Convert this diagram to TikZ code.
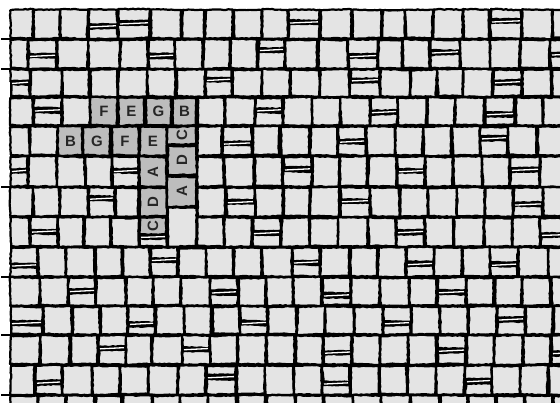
\documentclass[tikz,border=0pt]{standalone}
\usepackage{fontspec}
\setsansfont{Liberation Sans}
\usetikzlibrary{decorations.pathmorphing}
\definecolor{ctile}{HTML}{E4E4E4}
\definecolor{chigh}{HTML}{BDBDBD}
\definecolor{cink}{HTML}{262626}
\tikzset{
  tile/.style={draw=black, fill=#1, line width=2.2pt, line join=round,
    decorate, decoration={random steps, segment length=2.5pt, amplitude=0.45pt}},
  tile/.default=ctile,
  letter/.style={font=\sffamily\bfseries\fontsize{15}{15}\selectfont, text=cink, inner sep=0pt},
  sliver/.style={draw=white, line width=1.3pt},
  stub/.style={draw=black, line width=2.4pt},
}
% one slightly crooked tile: [fill] x1 y1 x2 y2
\newcommand\tilebox[5][ctile]{%
  \path[tile=#1] ({#2+0.6+0.7*rand},{#3+0.6+0.7*rand}) -- ({#4-0.6+0.7*rand},{#3+0.6+0.7*rand})
    -- ({#4-0.6+0.7*rand},{#5-0.6+0.7*rand}) -- ({#2+0.6+0.7*rand},{#5-0.6+0.7*rand}) -- cycle;}

\begin{document}
\begin{tikzpicture}[x=1pt, y=-1pt]
  \pgfmathsetseed{12}
  \useasboundingbox (0,0) rectangle (560,403);
  \begin{scope}
    \clip (0,0) rectangle (560,403);
    \fill[black] (10,9) rectangle (560,403);
    % bands of tiles: x end / kind (0 plain, 1 cracked, 2 marked, 3 left out)
    \foreach \ya/\yb/\cuts in {
      9/39/{33/0,60/0,88/0,118/1,150/1,182/0,205/0,233/0,262/0,288/0,320/1,352/0,382/0,405/0,433/0,463/0,490/0,522/1,552/0,580/0},
      39/69/{28/0,57/1,88/0,120/0,148/0,175/1,203/0,230/0,258/0,285/1,318/0,348/0,378/1,402/0,430/0,460/1,490/0,520/0,550/0,580/1},
      69/97/{30/1,62/0,90/0,118/0,147/0,176/0,205/0,232/1,262/0,290/0,320/0,350/0,380/1,410/0,437/0,463/0,493/0,522/1,552/0,580/0},
      97/126/{33/0,62/1,90/0,118/2,145/2,172/2,197/2,225/0,255/0,283/1,312/0,340/0,370/0,398/1,427/0,455/0,485/0,515/1,543/0,580/0},
      126/156/{30/0,58/0,83/2,111/2,139/2,167/2,197/3,222/0,252/1,280/0,310/0,338/0,366/1,395/0,423/0,452/0,480/0,508/1,537/0,580/0},
      156/187/{28/1,57/0,85/0,112/0,139/1,167/2,197/3,224/0,254/0,283/0,312/1,340/0,368/0,397/0,425/1,453/0,482/0,510/0,540/1,580/0},
      187/217/{33/0,60/0,88/0,115/1,139/0,167/2,197/3,226/0,255/1,283/0,310/0,340/0,370/1,400/0,428/0,457/0,485/0,513/0,543/1,580/0},
      217/247/{30/0,58/1,84/0,111/0,139/0,167/3,197/3,224/0,252/0,281/1,310/0,338/0,368/0,396/0,425/1,454/0,484/0,512/0,540/0,580/1},
      247/277/{38/1,66/0,95/0,122/0,150/0,178/1,206/0,234/0,262/0,292/0,320/1,350/0,378/0,406/0,434/1,462/0,490/0,518/1,548/0,580/0},
      277/306/{40/0,68/0,96/1,126/0,153/0,181/0,210/0,238/1,266/0,293/0,322/0,351/1,380/0,409/0,437/0,466/1,494/0,522/0,551/0,580/0},
      306/335/{43/1,72/0,100/0,128/0,155/1,184/0,212/0,240/0,268/1,297/0,325/0,354/0,383/0,411/1,440/0,468/0,497/0,525/1,553/0,580/0},
      335/365/{40/0,70/0,98/0,126/1,152/0,182/0,210/1,238/0,266/0,295/0,323/0,352/1,380/0,408/0,437/0,466/1,494/0,523/0,551/0,580/1},
      365/395/{35/0,62/1,92/0,120/0,148/0,178/0,206/0,236/1,265/0,294/0,322/0,350/1,379/0,407/0,436/0,465/0,492/1,520/0,548/0,580/0},
      395/425/{38/0,66/0,95/0,122/1,152/0,180/0,208/0,237/0,266/0,295/1,324/0,353/0,381/0,410/0,440/1,468/0,496/0,525/0,553/0,580/0}} {
      \foreach \x/\kind [remember=\x as \xp (initially 10)] in \cuts {
        \ifnum\kind=0 \tilebox{\xp}{\ya}{\x}{\yb}\fi
        \ifnum\kind=1
          \pgfmathsetmacro\ym{(\ya+\yb)/2+4*rand}
          \tilebox{\xp}{\ya}{\x}{\ym-1.3}
          \tilebox{\xp}{\ym+1.3}{\x}{\yb}
          \draw[sliver] ({\xp+2},{\ym+0.6}) -- ({\x-2},{\ym-0.6});
        \fi
        \ifnum\kind=2 \tilebox[chigh]{\xp}{\ya}{\x}{\yb}\fi
      }
    }
    % right column of marked tiles
    \tilebox[chigh]{167}{126}{197}{145}
    \tilebox[chigh]{167}{145}{197}{176}
    \tilebox[chigh]{167}{176}{197}{207}
    \tilebox{167}{207}{197}{247}
    % cracked tile under D
    \tilebox[chigh]{139}{217}{167}{235.7}
    \tilebox{139}{238.3}{167}{247}
    \draw[sliver] (141,237.4) -- (165,236.6);
  \end{scope}
  % short lines at the left edge
  \foreach \y in {39,69,187,277,335,395} \draw[stub] (1,\y) -- (11,\y);
  % letters across
  \foreach \n/\px/\py/\l in {r1F/104/111.5/F, r1E/131.5/111.5/E, r1G/158.5/111.5/G, r1B/184.5/111.5/B,
    r2B/70.5/141/B, r2G/97/141/G, r2F/125/141/F, r2E/153/141/E}
    \node[letter] (\n) at (\px,\py) {\l};
  % letters down
  \foreach \n/\px/\py/\l in {c1A/153/172/A, c1D/153/202.5/D, c1C/153/226.5/C,
    c2C/182/135.5/C, c2D/182/160.5/D, c2A/182/191.5/A}
    \node[letter, rotate=90] (\n) at (\px,\py) {\l};
\end{tikzpicture}
\end{document}
